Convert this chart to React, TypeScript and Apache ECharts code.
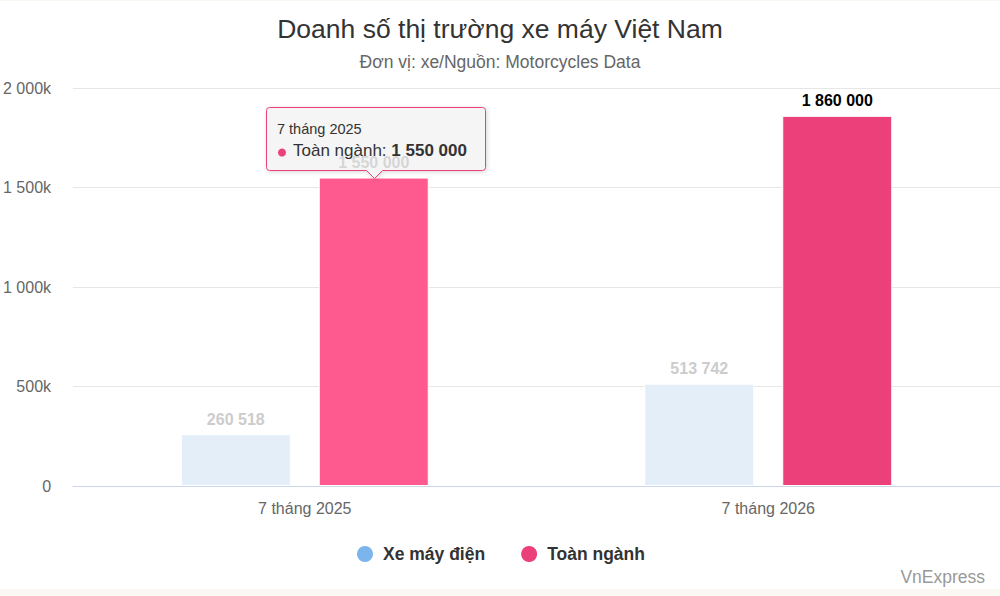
import React, { useEffect, useRef } from "react";
import * as echarts from "echarts";

const TITLE = "Doanh số thị trường xe máy Việt Nam";
const SUBTITLE = "Đơn vị: xe/Nguồn: Motorcycles Data";
const categories = ["7 tháng 2025", "7 tháng 2026"];
const electricName = "Xe máy điện";
const totalName = "Toàn ngành";
const electricValues = [260518, 513742];
const totalValues = [1550000, 1860000];
const yMin = 0;
const yMax = 2000000;
const yInterval = 500000;
const hoveredIndex = 0;

const FONT = "'Liberation Sans', Arial, Helvetica, sans-serif";

const fmt = (n: number) => String(n).replace(/\B(?=(\d{3})+(?!\d))/g, " ");

// tooltip callout outline (box 219x63, pointer at 108 from left, 8px tall)
const W = 219, H = 63, R = 3, PX = 108, PH = 8, PW = 8;
const calloutD = `M${R},0 H${W - R} Q${W},0 ${W},${R} V${H - R} Q${W},${H} ${W - R},${H} H${PX + PW} L${PX},${H + PH} L${PX - PW},${H} H${R} Q0,${H} 0,${H - R} V${R} Q0,0 ${R},0 Z`;
echarts.graphic.registerShape("callout", echarts.graphic.extendPath(calloutD, {}) as any);

export default function App() {
  const ref = useRef<HTMLDivElement>(null);
  useEffect(() => {
    document.body.style.margin = "0";
    if (!ref.current) return;
    const chart = echarts.init(ref.current, undefined, { renderer: "svg" });
    const option: any = {
      animation: false,
      backgroundColor: "#ffffff",
      textStyle: { fontFamily: FONT },
      title: [
        {
          text: TITLE,
          left: "center",
          top: 10,
          textStyle: { fontSize: 26.5, fontWeight: "normal", color: "#333333", fontFamily: FONT },
        },
        {
          text: SUBTITLE,
          left: "center",
          top: 48,
          textStyle: { fontSize: 17.5, fontWeight: "normal", color: "#666666", fontFamily: FONT },
        },
      ],
      legend: {
        left: 352,
        top: 540,
        icon: "circle",
        itemWidth: 16,
        itemHeight: 16,
        itemGap: 36,
        selectedMode: false,
        textStyle: { fontSize: 17.5, fontWeight: "bold", color: "#333333", fontFamily: FONT, padding: [0, 0, 0, 5] },
        data: [
          { name: electricName, itemStyle: { color: "#7cb5ec", borderWidth: 0 } },
          { name: totalName, itemStyle: { color: "#ec407a", borderWidth: 0 } },
        ],
      },
      tooltip: { show: false },
      grid: { left: 70, right: 0, top: 88, bottom: 110, containLabel: false },
      xAxis: {
        type: "category",
        data: categories,
        axisTick: { show: false },
        axisLine: { lineStyle: { color: "#ccd6eb", width: 1 } },
        axisLabel: { color: "#666666", fontSize: 16, margin: 14, fontFamily: FONT },
      },
      yAxis: {
        type: "value",
        min: yMin,
        max: yMax,
        interval: yInterval,
        axisLine: { show: false },
        axisTick: { show: false },
        splitLine: { lineStyle: { color: "#e6e6e6", width: 1 } },
        axisLabel: {
          color: "#666666",
          fontSize: 16,
          margin: 22,
          fontFamily: FONT,
          formatter: (v: number) => (v === 0 ? "0" : fmt(v / 1000) + "k"),
        },
      },
      series: [
        {
          name: electricName,
          type: "bar",
          data: electricValues,
          barWidth: 110,
          barGap: "25.45%",
          itemStyle: { color: "#e4eef9", borderColor: "#ffffff", borderWidth: 1 },
          emphasis: { disabled: true },
          label: {
            show: true,
            position: "top",
            distance: 7,
            color: "#cccccc",
            fontSize: 16,
            fontWeight: "bold",
            fontFamily: FONT,
            formatter: (p: any) => fmt(p.value),
          },
        },
        {
          name: totalName,
          type: "bar",
          data: totalValues.map((v, i) => ({
            value: v,
            itemStyle: { color: i === hoveredIndex ? "#ff5a90" : "#ec407a" },
          })),
          barWidth: 110,
          barGap: "25.45%",
          itemStyle: { color: "#ec407a", borderColor: "#ffffff", borderWidth: 1 },
          emphasis: { disabled: true },
          label: {
            show: true,
            position: "top",
            distance: 7,
            color: "#000000",
            fontSize: 16,
            fontWeight: "bold",
            fontFamily: FONT,
            formatter: (p: any) => fmt(p.value),
          },
        },
      ],
      graphic: [
        { type: "rect", shape: { x: 0, y: 0, width: 1000, height: 1 }, style: { fill: "#faf8f2" }, silent: true },
        { type: "rect", shape: { x: 0, y: 589, width: 1000, height: 7 }, style: { fill: "#fbf8f3" }, silent: true },
        {
          type: "text",
          right: 15,
          top: 568,
          style: { text: "VnExpress", fontSize: 17.5, fill: "#999999", fontFamily: FONT },
          silent: true,
        },
      ],
    };
    chart.setOption(option);

    // place the tooltip callout above the hovered bar
    let tipX = 371.5, tipY = 177.5;
    try {
      const layout = (chart as any).getModel().getSeriesByIndex(1).getData().getItemLayout(hoveredIndex);
      if (layout) {
        tipX = layout.x + layout.width / 2;
        tipY = Math.min(layout.y, layout.y + layout.height);
      }
    } catch (e) {}
    const bx = Math.round(tipX - PX) + 0.5;
    const by = Math.round(tipY - H - PH) + 0.5;
    chart.setOption({
      graphic: [
        ...option.graphic,
        {
          type: "callout",
          x: bx,
          y: by,
          z: 100,
          silent: true,
          style: {
            fill: "rgba(247,247,247,0.85)",
            stroke: "#ec407a",
            lineWidth: 1,
            shadowBlur: 4,
            shadowOffsetX: 1,
            shadowOffsetY: 1,
            shadowColor: "rgba(0,0,0,0.18)",
          },
        },
        {
          type: "text",
          x: bx + 10.5,
          y: by + 21.5,
          z: 101,
          silent: true,
          style: {
            text: categories[hoveredIndex],
            fontSize: 14.5,
            fill: "#333333",
            fontFamily: FONT,
            verticalAlign: "middle",
          },
        },
        {
          type: "circle",
          z: 101,
          silent: true,
          shape: { cx: bx + 15.5, cy: by + 45, r: 4 },
          style: { fill: "#ec407a" },
        },
        {
          type: "text",
          x: bx + 26.5,
          y: by + 43,
          z: 101,
          silent: true,
          style: {
            text: `{a|${totalName}: }{b|${fmt(totalValues[hoveredIndex])}}`,
            verticalAlign: "middle",
            rich: {
              a: { fontSize: 17, fill: "#333333", color: "#333333", fontFamily: FONT },
              b: { fontSize: 17, fontWeight: "bold", fill: "#333333", color: "#333333", fontFamily: FONT },
            },
          },
        },
      ],
    });

    return () => chart.dispose();
  }, []);
  return <div ref={ref} style={{ width: 1000, height: 596 }} />;
}
